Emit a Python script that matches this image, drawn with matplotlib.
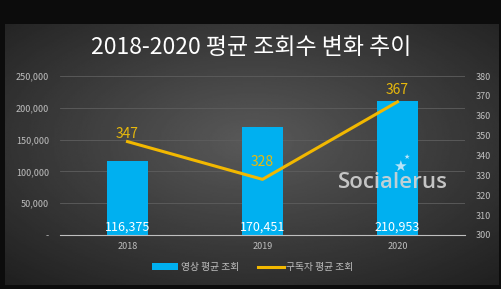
import numpy as np
import matplotlib.pyplot as plt
from matplotlib.ticker import FuncFormatter

plt.rcParams['font.family'] = ['Noto Sans CJK KR', 'DejaVu Sans']

years = ['2018', '2019', '2020']
views = [116375, 170451, 210953]      # 영상 평균 조회
subs = [347, 328, 367]                # 구독자 평균 조회
sub_label_gap = [4, 8.5, 6]           # label offset above the line point

W, H = 501, 289
fig = plt.figure(figsize=(W / 100, H / 100), dpi=100)
fig.patch.set_facecolor('#0c0c0c')

# gray gradient panel
bg = fig.add_axes([5 / W, 1 - 285 / H, 493 / W, 261 / H])
yy, xx = np.mgrid[-1:1:200j, -1:1:300j]
r = np.sqrt((xx * 0.9) ** 2 + ((yy + 0.1) * 0.9) ** 2)
bg.imshow(0.35 - 0.17 * r, cmap='gray', vmin=0, vmax=1, aspect='auto',
          extent=[0, 1, 0, 1])
bg.axis('off')

ax = fig.add_axes([60 / W, 1 - 235 / H, 405 / W, 159 / H])
ax.patch.set_alpha(0)
x = np.arange(len(years))
ax.bar(x, views, width=0.31, color='#00b0f0', label='영상 평균 조회', zorder=2)
ax.set_xlim(-0.5, 2.5)
ax.set_ylim(0, 250000)
ax.set_yticks(range(0, 250001, 50000))
ax.yaxis.set_major_formatter(FuncFormatter(lambda v, p: '-' if v == 0 else f'{int(v):,}'))
ax.set_xticks(x)
ax.set_xticklabels(years)
ax.grid(axis='y', color='#5e5e5e', lw=0.6, zorder=0)
for s in ['top', 'right', 'left']:
    ax.spines[s].set_visible(False)
ax.spines['bottom'].set_color('#bfbfbf')
ax.tick_params(length=0, colors='#bfbfbf', labelsize=6.5)
ax.tick_params(axis='y', pad=8)
ax.tick_params(axis='x', pad=5)
for xi, v in zip(x, views):
    ax.text(xi, 12000, f'{v:,}', color='white', ha='center', va='center',
            fontsize=9, zorder=5)

ax2 = ax.twinx()
ax2.plot(x, subs, color='#f2b800', lw=2.2, label='구독자 평균 조회', zorder=4)
ax2.set_ylim(300, 380)
ax2.set_yticks(range(300, 381, 10))
for s in ax2.spines.values():
    s.set_visible(False)
ax2.tick_params(length=0, colors='#bfbfbf', labelsize=6.5, pad=8)
for xi, v, g in zip(x, subs, sub_label_gap):
    ax2.text(xi, v + g, str(v), color='#e8b90c', ha='center', va='center',
             fontsize=10, zorder=5)

# watermark
fig.text(393 / W, 1 - 183 / H, 'Socialerus', color='#d4d4d4', alpha=0.9,
         ha='center', va='center', fontsize=16, family='Open Sans',
         weight='semibold')
fig.text(400 / W, 1 - 166 / H, '★', color='#b8e4f8', ha='center', va='center',
         fontsize=11, family='DejaVu Sans')
fig.text(407 / W, 1 - 157 / H, '★', color='#b8e4f8', ha='center', va='center',
         fontsize=5, family='DejaVu Sans')

fig.text(251 / W, 1 - 47 / H, '2018-2020 평균 조회수 변화 추이', color='white',
         ha='center', va='center', fontsize=16.5)

h1, l1 = ax.get_legend_handles_labels()
h2, l2 = ax2.get_legend_handles_labels()
fig.legend(h1 + h2, l1 + l2, loc='center', bbox_to_anchor=(253 / W, 1 - 267 / H),
           ncol=2, frameon=False, fontsize=7, labelcolor='#bfbfbf',
           handlelength=2.6, columnspacing=2.0, handletextpad=0.3)

fig.savefig('out.png', dpi=100, facecolor=fig.get_facecolor())
